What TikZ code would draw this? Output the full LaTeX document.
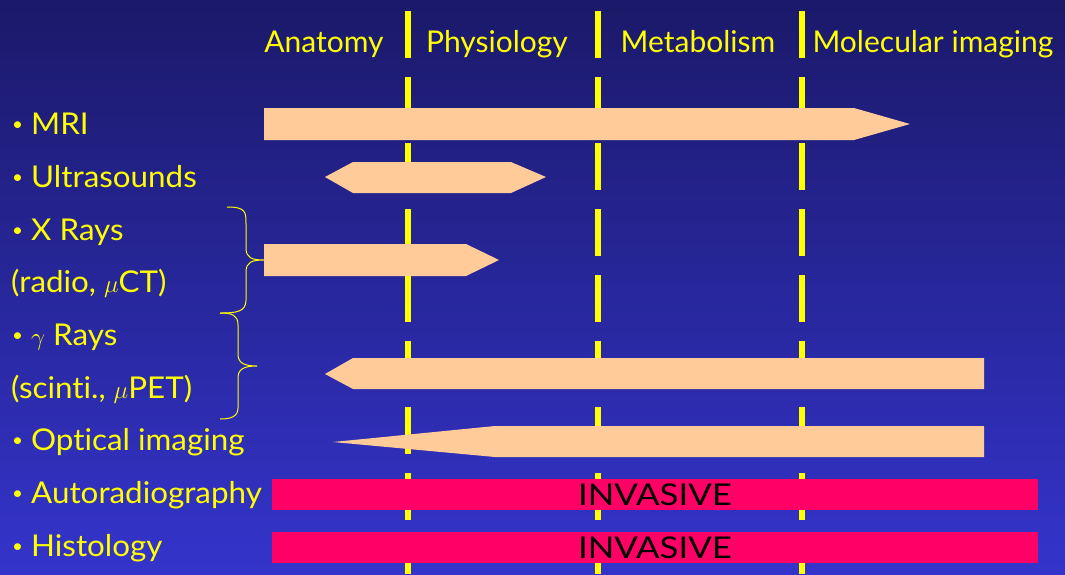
\documentclass[tikz,border=0pt]{standalone}
\usepackage{fontspec}
\setmainfont[Ligatures=NoCommon]{Lato}
\newfontfamily\lblfont[Ligatures=NoCommon,FakeStretch=1.045]{Lato}
\newfontfamily\invfont[Ligatures=NoCommon,FakeStretch=1.16]{Lato}
\definecolor{bgtop}{RGB}{27,25,105}
\definecolor{bgbot}{RGB}{52,52,204}
\definecolor{ylw}{RGB}{255,255,0}
\definecolor{peach}{RGB}{255,204,153}
\definecolor{pinkred}{RGB}{255,0,102}
\newcommand\mybul{\makebox[24pt][l]{\hspace{5pt}\raisebox{4pt}{\fontsize{18}{18}\selectfont •}}}
\begin{document}
\begin{tikzpicture}[x=1pt,y=-1pt,
  lbl/.style={anchor=base west, inner sep=0pt, text=ylw, font=\lblfont\fontsize{30}{35}\selectfont},
  hdr/.style={anchor=base, inner sep=0pt, text=ylw, font=\fontsize{30}{36}\selectfont},
  band/.style={fill=peach},
  inv/.style={fill=pinkred, minimum width=766pt, minimum height=31pt, inner sep=0pt, text=black, font=\invfont\fontsize{30}{34}\selectfont},
  sep/.style={draw=ylw, line width=6pt, dash pattern=on 47pt off 19pt},
  brc/.style={draw=ylw, line width=1pt}]
\useasboundingbox (0,0) rectangle (1065,574);
\shade[top color=bgtop, bottom color=bgbot] (0,0) rectangle (1065,574);
% separators
\coordinate (s1t) at (408,11); \coordinate (s1b) at (408,574);
\coordinate (s2t) at (598,11); \coordinate (s2b) at (598,574);
\coordinate (s3t) at (802,11); \coordinate (s3b) at (802,574);
\draw[sep] (s1t) -- (s1b);
\draw[sep] (s2t) -- (s2b);
\draw[sep] (s3t) -- (s3b);
% headings
\node[hdr] (h1) at (324,52) {Anatomy};
\node[hdr] (h2) at (497,52) {Physiology};
\node[hdr] (h3) at (698,52) {Metabolism};
\node[hdr] (h4) at (933,52) {Molecular imaging};
% row labels
\node[lbl] (l1) at (7,134) {\mybul MRI};
\node[lbl] (l2) at (7,187) {\mybul Ultrasounds};
\node[lbl] (l3) at (7,240) {\mybul X Rays};
\node[lbl] (l4) at (11,292) {(radio, $\mu$CT)};
\node[lbl] (l5) at (7,345) {\mybul $\gamma$ Rays};
\node[lbl] (l6) at (11,398) {(scinti., $\mu$PET)};
\node[lbl] (l7) at (7,450) {\mybul Optical imaging};
\node[lbl] (l8) at (7,503) {\mybul Autoradiography};
\node[lbl] (l9) at (7,556) {\mybul Histology};
% arrows
\fill[band] (264,108) -- (854,108) -- (910,124) -- (854,140) -- (264,140) -- cycle;
\fill[band] (325,177) -- (353,162) -- (511,162) -- (546,177) -- (511,193) -- (353,193) -- cycle;
\fill[band] (264,244) -- (466,244) -- (499,260) -- (466,276) -- (264,276) -- cycle;
\fill[band] (325,374) -- (353,358) -- (984,358) -- (984,389) -- (353,389) -- cycle;
\fill[band] (333,442) -- (495,426) -- (984,426) -- (984,457) -- (495,457) -- cycle;
% braces
\coordinate (b1a) at (227,207); \coordinate (b1t) at (264,260); \coordinate (b1b) at (220,313);
\coordinate (b2t) at (257,366); \coordinate (b2b) at (220,419);
\draw[brc] (b1a) .. controls (246,207) and (246,212) .. (246,224) -- (246,248)
  .. controls (246,258) and (252,260) .. (b1t)
  .. controls (252,260) and (246,262) .. (246,272) -- (246,300)
  .. controls (246,312) and (236,313) .. (b1b);
\draw[brc] (b1b) .. controls (232,313) and (238,315) .. (238,325) -- (238,354)
  .. controls (238,363) and (244,366) .. (b2t)
  .. controls (244,366) and (238,369) .. (238,378) -- (238,408)
  .. controls (238,417) and (230,419) .. (b2b);
% invasive bars
\node[inv] (i1) at (655,494.5) {INVASIVE};
\node[inv] (i2) at (655,547.5) {INVASIVE};
\end{tikzpicture}
\end{document}
